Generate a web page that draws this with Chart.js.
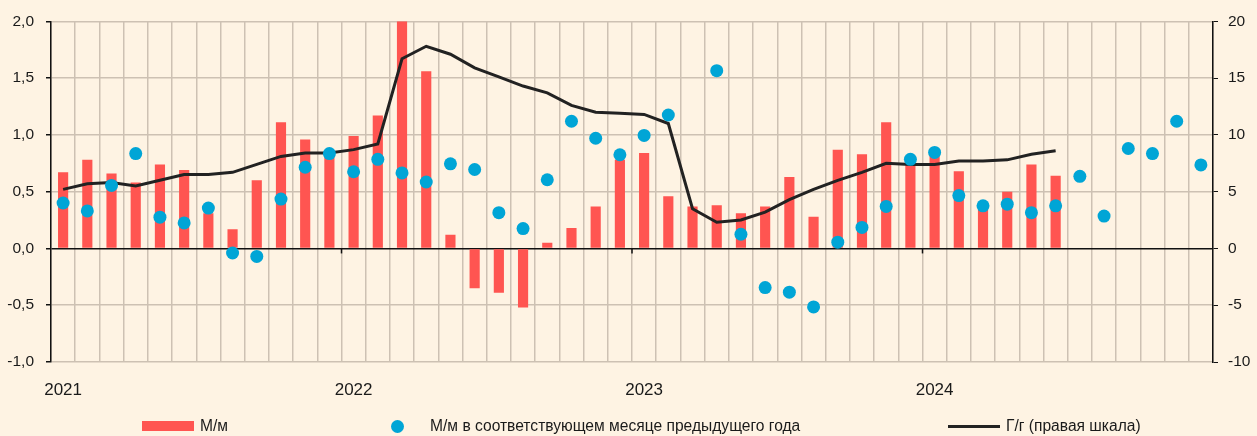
<!DOCTYPE html>
<html lang="ru">
<head>
<meta charset="utf-8">
<title>ИПЦ: м/м и г/г</title>
<script src="https://cdn.jsdelivr.net/npm/chart.js@4.4.1/dist/chart.umd.min.js"></script>
<style>
  html, body { margin: 0; padding: 0; background: #fef3e3; }
  #wrap { position: relative; width: 1257px; height: 436px; }
  #legend { position: absolute; left: 0; top: 416px; width: 1257px; height: 20px;
    font-family: 'Liberation Sans Narrow', 'Arial Narrow', 'Liberation Sans', sans-serif;
    font-size: 15.6px; color: #1a1a1a; }
  .item { position: absolute; top: 0; display: flex; align-items: center; height: 20px; white-space: nowrap; }
  .swatch { display: inline-block; }
</style>
</head>
<body>
<div id="wrap">
  <canvas id="chart"></canvas>
  <div id="legend"></div>
</div>
<script>
const FONT = "'Liberation Sans Narrow', 'Arial Narrow', 'Liberation Sans', sans-serif";

// months Jan 2021 .. Dec 2024
const years = ["2021", "2022", "2023", "2024"];
const months = [];
years.forEach(y => { for (let m = 1; m <= 12; m++) months.push(String(m).padStart(2, "0") + "." + y); });

// М/м, %
const momValues = [
  0.67, 0.78, 0.66, 0.58, 0.74, 0.69, 0.31, 0.17, 0.60, 1.11, 0.96, 0.82,
  0.99, 1.17, 2.00, 1.56, 0.12, -0.35, -0.39, -0.52, 0.05, 0.18, 0.37, 0.78,
  0.84, 0.46, 0.37, 0.38, 0.31, 0.37, 0.63, 0.28, 0.87, 0.83, 1.11, 0.75,
  0.84, 0.68, 0.39, 0.50, 0.74, 0.64, null, null, null, null, null, null,
];

// М/м в соответствующем месяце предыдущего года (март 2023 за пределами шкалы)
const prevYearValues = [
  0.40, 0.33, 0.555, 0.835, 0.275, 0.225, 0.355, -0.04, -0.07, 0.435, 0.715, 0.835,
  0.675, 0.785, 0.665, 0.585, 0.745, 0.695, 0.315, 0.175, 0.605, 1.12, 0.97, 0.825,
  0.995, 1.175, null, 1.565, 0.125, -0.345, -0.385, -0.515, 0.055, 0.185, 0.37, 0.785,
  0.845, 0.465, 0.375, 0.39, 0.315, 0.375, 0.635, 0.285, 0.88, 0.835, 1.12, 0.735,
];

// Г/г, % (правая шкала)
const yoyValues = [
  5.2, 5.7, 5.8, 5.5, 6.0, 6.5, 6.5, 6.7, 7.4, 8.1, 8.4, 8.4,
  8.7, 9.2, 16.7, 17.8, 17.1, 15.9, 15.1, 14.3, 13.7, 12.6, 12.0, 11.9,
  11.8, 11.0, 3.5, 2.3, 2.5, 3.2, 4.3, 5.2, 6.0, 6.7, 7.5, 7.4,
  7.4, 7.7, 7.7, 7.8, 8.3, 8.6, null, null, null, null, null, null,
];

const leftTicks = [-1, -0.5, 0, 0.5, 1, 1.5, 2];
const rightTicks = [-10, -5, 0, 5, 10, 15, 20];

const RED = "#ff5551";
const BLUE = "#00a5d6";
const DARK = "#222222";
const GRID = "#cdc1b3";

// small black ticks on the zero line at year boundaries
const yearTicks = {
  id: "yearTicks",
  beforeDatasetsDraw(chart) {
    const x = chart.scales.x, y = chart.scales.y;
    const c = chart.ctx;
    const half = (x.getPixelForValue(1) - x.getPixelForValue(0)) / 2;
    const y0 = y.getPixelForValue(0);
    c.save();
    c.strokeStyle = "#111";
    c.lineWidth = 1.5;
    for (let i = 12; i < months.length; i += 12) {
      const px = x.getPixelForValue(i) - half;
      c.beginPath();
      c.moveTo(px, y0);
      c.lineTo(px, y0 + 5);
      c.stroke();
    }
    c.restore();
  }
};

const chart = new Chart(document.getElementById("chart"), {
  type: "bar",
  data: {
    labels: months,
    datasets: [
      {
        type: "line",
        label: "М/м в соответствующем месяце предыдущего года",
        data: prevYearValues,
        showLine: false,
        pointRadius: 6.5,
        pointHoverRadius: 6.5,
        pointBackgroundColor: BLUE,
        pointBorderWidth: 0,
        backgroundColor: BLUE,
        borderColor: BLUE,
        yAxisID: "y",
        order: 0,
      },
      {
        type: "line",
        label: "Г/г (правая шкала)",
        data: yoyValues,
        borderColor: DARK,
        backgroundColor: DARK,
        borderWidth: 3,
        pointRadius: 0,
        tension: 0,
        yAxisID: "y2",
        order: 1,
      },
      {
        label: "М/м",
        data: momValues,
        backgroundColor: RED,
        barPercentage: 0.42,
        categoryPercentage: 1,
        yAxisID: "y",
        order: 2,
      },
    ],
  },
  options: {
    responsive: true,
    maintainAspectRatio: false,
    animation: false,
    layout: { padding: { top: 15, left: 0, right: 0, bottom: 0 } },
    plugins: { legend: { display: false }, tooltip: { enabled: false } },
    scales: {
      x: {
        offset: true,
        grid: { offset: true, color: GRID, lineWidth: 1.5, drawTicks: false },
        border: { display: false },
        ticks: {
          autoSkip: false,
          maxRotation: 0,
          padding: 18,
          color: "#1a1a1a",
          font: { family: FONT, size: 17 },
          callback: (v, i) => (i % 12 === 0 ? years[i / 12] : ""),
        },
        afterFit: s => { s.height = 74; },
      },
      y: {
        position: "left",
        min: -1,
        max: 2,
        afterBuildTicks: axis => { axis.ticks = leftTicks.map(v => ({ value: v })); },
        grid: {
          color: c => (c.tick && c.tick.value === 0 ? "#111" : GRID),
          lineWidth: 1.5,
          tickLength: 5,
          tickColor: "#111",
        },
        border: { color: "#111", width: 1.5 },
        ticks: {
          padding: 12,
          color: "#1a1a1a",
          font: { family: FONT, size: 15.5 },
          callback: v => v.toFixed(1).replace(".", ","),
        },
        afterFit: s => { s.width = 51; },
      },
      y2: {
        position: "right",
        min: -10,
        max: 20,
        afterBuildTicks: axis => { axis.ticks = rightTicks.map(v => ({ value: v })); },
        grid: { drawOnChartArea: false, tickLength: 5, tickColor: "#111" },
        border: { color: "#111", width: 1.5 },
        ticks: {
          padding: 10,
          color: "#1a1a1a",
          font: { family: FONT, size: 15.5 },
          callback: v => String(v),
        },
        afterFit: s => { s.width = 44; },
      },
    },
  },
  plugins: [yearTicks],
});

// legend built from the datasets
const legendEl = document.getElementById("legend");
const legendLeft = [142, 391, 948];
const legendOrder = [2, 0, 1];
legendOrder.forEach((di, k) => {
  const ds = chart.data.datasets[di];
  const item = document.createElement("div");
  item.className = "item";
  item.style.left = legendLeft[k] + "px";
  const sw = document.createElement("span");
  sw.className = "swatch";
  if (di === 2) {
    sw.style.cssText = "width:52px;height:10px;background:" + RED + ";margin-right:6px";
  } else if (di === 0) {
    sw.style.cssText = "width:13px;height:13px;border-radius:50%;background:" + BLUE + ";margin-right:26px";
  } else {
    sw.style.cssText = "width:52px;height:3px;background:" + DARK + ";margin-right:6px";
  }
  const tx = document.createElement("span");
  tx.textContent = ds.label;
  item.appendChild(sw);
  item.appendChild(tx);
  legendEl.appendChild(item);
});
</script>
</body>
</html>
